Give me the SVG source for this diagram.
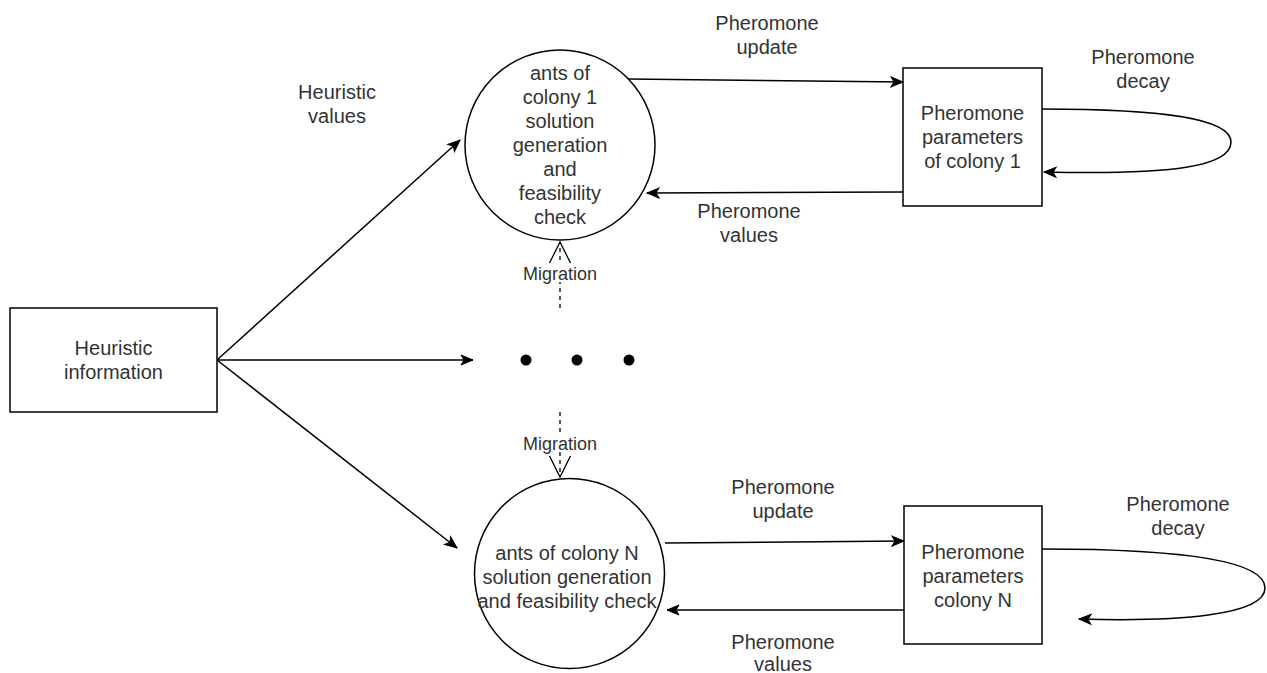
<svg xmlns="http://www.w3.org/2000/svg" width="1267" height="673" viewBox="0 0 1267 673">
<style>
.shape{fill:#ffffff;stroke:#000000;stroke-width:1.5}
.t{font-family:"Liberation Sans",Arial,sans-serif;font-size:20px;fill:#333333;text-anchor:middle}
.m{font-family:"Liberation Sans",Arial,sans-serif;font-size:18px;fill:#333333;text-anchor:middle}
.edge{fill:none;stroke:#000000;stroke-width:1.5}
.dash{fill:none;stroke:#000000;stroke-width:1.3;stroke-dasharray:4 4}
</style>
<defs>
<marker id="arr" markerUnits="userSpaceOnUse" markerWidth="14" markerHeight="12" refX="12" refY="5" orient="auto" overflow="visible">
<path d="M0,0 L12,5 L0,10 L3,5 Z" fill="#000000" stroke="#000000" stroke-width="1"/>
</marker>
<marker id="open" markerUnits="userSpaceOnUse" markerWidth="24" markerHeight="24" refX="21" refY="10.5" orient="auto" overflow="visible">
<path d="M0,0 L21,10.5 L0,21" fill="none" stroke="#000000" stroke-width="1.3" stroke-dasharray="none"/>
</marker>
</defs>
<rect width="1267" height="673" fill="#ffffff"/>

<g id="connectors">
<path class="edge" d="M217,360 L460,140" marker-end="url(#arr)"/>
<path class="edge" d="M217,360 L473,360" marker-end="url(#arr)"/>
<path class="edge" d="M217,360 L457,548" marker-end="url(#arr)"/>
<path class="edge" d="M628,79 L903,82" marker-end="url(#arr)"/>
<path class="edge" d="M903,192 L647,193" marker-end="url(#arr)"/>
<path class="edge" d="M1042,109 C1160,109 1231,118 1231,142 C1231,167 1170,175 1044,172" marker-end="url(#arr)"/>
<path class="edge" d="M665,543 L904,541" marker-end="url(#arr)"/>
<path class="edge" d="M904,610 L667,610" marker-end="url(#arr)"/>
<path class="edge" d="M1042,549 C1180,549 1265,560 1265,588 C1265,615 1180,622 1079,619" marker-end="url(#arr)"/>
<path class="dash" d="M560,308 L560,242" marker-end="url(#open)"/>
<path class="dash" d="M560,412 L560,477" marker-end="url(#open)"/>
<text class="t" x="337" y="99">Heuristic</text>
<text class="t" x="337" y="123">values</text>
<text class="t" x="767" y="30">Pheromone</text>
<text class="t" x="767" y="54">update</text>
<text class="t" x="749" y="218">Pheromone</text>
<text class="t" x="749" y="242">values</text>
<text class="t" x="1143" y="64">Pheromone</text>
<text class="t" x="1143" y="88">decay</text>
<text class="t" x="783" y="494">Pheromone</text>
<text class="t" x="783" y="518">update</text>
<text class="t" x="783" y="649">Pheromone</text>
<text class="t" x="783" y="671">values</text>
<text class="t" x="1178" y="511">Pheromone</text>
<text class="t" x="1178" y="535">decay</text>
<rect x="522" y="264" width="76" height="18" fill="#ffffff"/>
<text class="m" x="560" y="280">Migration</text>
<rect x="522" y="434" width="76" height="18" fill="#ffffff"/>
<text class="m" x="560" y="450">Migration</text>
</g>

<g id="heuristic-information">
<rect class="shape" x="10" y="308" width="207" height="104"/>
<text class="t" x="113.5" y="355">Heuristic</text>
<text class="t" x="113.5" y="379">information</text>
</g>

<g id="colony-1">
<circle class="shape" cx="560" cy="145" r="95"/>
<text class="t" x="560" y="80">ants of</text>
<text class="t" x="560" y="104">colony 1</text>
<text class="t" x="560" y="128">solution</text>
<text class="t" x="560" y="152">generation</text>
<text class="t" x="560" y="176">and</text>
<text class="t" x="560" y="200">feasibility</text>
<text class="t" x="560" y="224">check</text>
</g>

<g id="pheromone-1">
<rect class="shape" x="903" y="68" width="139" height="138"/>
<text class="t" x="972.5" y="120">Pheromone</text>
<text class="t" x="972.5" y="144">parameters</text>
<text class="t" x="972.5" y="168">of colony 1</text>
</g>

<g id="ellipsis">
<circle cx="526" cy="360" r="5.5" fill="#000000"/>
<circle cx="577" cy="360" r="5.5" fill="#000000"/>
<circle cx="629" cy="360" r="5.5" fill="#000000"/>
</g>

<g id="colony-n">
<circle class="shape" cx="569.5" cy="573.5" r="95"/>
<text class="t" x="567" y="560">ants of colony N</text>
<text class="t" x="567" y="584">solution generation</text>
<text class="t" x="567" y="608">and feasibility check</text>
</g>

<g id="pheromone-n">
<rect class="shape" x="904" y="506" width="138" height="138"/>
<text class="t" x="973" y="559">Pheromone</text>
<text class="t" x="973" y="583">parameters</text>
<text class="t" x="973" y="607">colony N</text>
</g>
</svg>
